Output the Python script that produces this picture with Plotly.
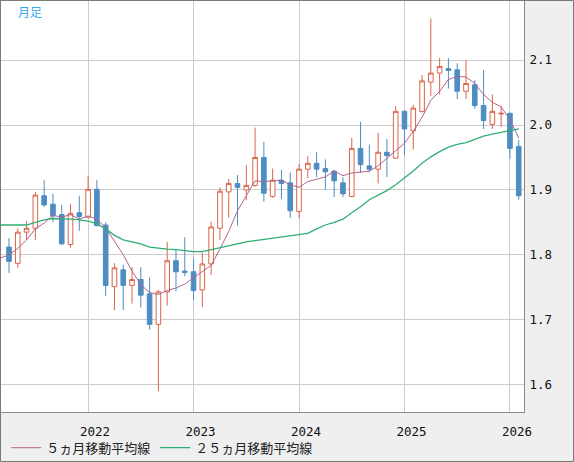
import plotly.graph_objects as go

# monthly candles, Apr 2021 - Feb 2026
months = [
    "2021-04", "2021-05", "2021-06", "2021-07", "2021-08", "2021-09", "2021-10", "2021-11", "2021-12",
    "2022-01", "2022-02", "2022-03", "2022-04", "2022-05", "2022-06", "2022-07", "2022-08", "2022-09", "2022-10", "2022-11", "2022-12",
    "2023-01", "2023-02", "2023-03", "2023-04", "2023-05", "2023-06", "2023-07", "2023-08", "2023-09", "2023-10", "2023-11", "2023-12",
    "2024-01", "2024-02", "2024-03", "2024-04", "2024-05", "2024-06", "2024-07", "2024-08", "2024-09", "2024-10", "2024-11", "2024-12",
    "2025-01", "2025-02", "2025-03", "2025-04", "2025-05", "2025-06", "2025-07", "2025-08", "2025-09", "2025-10", "2025-11", "2025-12",
    "2026-01", "2026-02",
]
opens = [
    1.812, 1.787, 1.835, 1.841, 1.891, 1.878, 1.862, 1.816, 1.865,
    1.858, 1.901, 1.846, 1.751, 1.777, 1.753, 1.762, 1.740, 1.693, 1.743, 1.791, 1.775,
    1.774, 1.746, 1.786, 1.841, 1.897, 1.910, 1.900, 1.907, 1.950, 1.890, 1.915, 1.911,
    1.867, 1.932, 1.941, 1.933, 1.929, 1.911, 1.890, 1.964, 1.937, 1.932, 1.958, 1.949,
    2.021, 1.991, 2.021, 2.066, 2.080, 2.087, 2.085, 2.052, 2.062, 2.030, 2.001, 2.017,
    2.018, 1.967,
]
highs = [
    1.826, 1.841, 1.852, 1.897, 1.915, 1.894, 1.877, 1.878, 1.891,
    1.922, 1.915, 1.850, 1.787, 1.785, 1.781, 1.781, 1.765, 1.746, 1.820, 1.808, 1.827,
    1.795, 1.803, 1.851, 1.904, 1.917, 1.923, 1.938, 1.996, 1.974, 1.933, 1.931, 1.927,
    1.940, 1.952, 1.958, 1.947, 1.931, 1.920, 1.980, 2.005, 1.970, 1.988, 1.978, 2.029,
    2.023, 2.031, 2.077, 2.164, 2.103, 2.103, 2.095, 2.100, 2.069, 2.085, 2.047, 2.029,
    2.019, 1.977,
]
lows = [
    1.772, 1.780, 1.823, 1.823, 1.874, 1.850, 1.815, 1.811, 1.837,
    1.856, 1.844, 1.737, 1.715, 1.715, 1.725, 1.719, 1.685, 1.590, 1.722, 1.744, 1.767,
    1.730, 1.720, 1.769, 1.823, 1.857, 1.845, 1.884, 1.905, 1.882, 1.888, 1.886, 1.857,
    1.857, 1.918, 1.920, 1.900, 1.889, 1.889, 1.889, 1.926, 1.927, 1.910, 1.920, 1.948,
    1.954, 1.962, 2.019, 2.045, 2.047, 2.056, 2.040, 2.040, 2.025, 1.994, 1.994, 1.997,
    1.948, 1.885,
]
closes = [
    1.790, 1.835, 1.841, 1.892, 1.877, 1.860, 1.817, 1.864, 1.859,
    1.901, 1.845, 1.753, 1.780, 1.753, 1.762, 1.738, 1.693, 1.743, 1.791, 1.774, 1.773,
    1.745, 1.786, 1.843, 1.898, 1.910, 1.904, 1.907, 1.950, 1.895, 1.915, 1.910, 1.868,
    1.932, 1.941, 1.932, 1.928, 1.914, 1.894, 1.964, 1.939, 1.932, 1.958, 1.953, 2.021,
    1.994, 2.026, 2.068, 2.080, 2.090, 2.084, 2.052, 2.064, 2.030, 2.007, 2.021, 2.018,
    1.964, 1.891,
]

# moving averages start one month earlier (line enters from the left edge)
ma_months = ["2021-03"] + months
ma5 = [
    1.795, 1.800, 1.810, 1.823, 1.840, 1.849, 1.861, 1.858, 1.862, 1.855,
    1.860, 1.855, 1.842, 1.822, 1.800, 1.775, 1.754, 1.742, 1.739, 1.745, 1.749, 1.755,
    1.765, 1.774, 1.784, 1.809, 1.836, 1.868, 1.892, 1.914, 1.913, 1.914, 1.915, 1.908,
    1.904, 1.913, 1.917, 1.920, 1.929, 1.922, 1.926, 1.928, 1.929, 1.937, 1.949, 1.961,
    1.972, 1.990, 2.012, 2.038, 2.052, 2.070, 2.075, 2.074, 2.064, 2.047, 2.035, 2.028,
    2.008, 1.980,
]
ma25 = [
    1.846, 1.846, 1.846, 1.846, 1.850, 1.854, 1.856, 1.856, 1.855, 1.854,
    1.852, 1.848, 1.840, 1.830, 1.823, 1.820, 1.817, 1.812, 1.810, 1.809, 1.808, 1.806,
    1.805, 1.805, 1.808, 1.812, 1.815, 1.818, 1.820, 1.822, 1.824, 1.826, 1.828, 1.830,
    1.831, 1.833, 1.840, 1.846, 1.850, 1.855, 1.865, 1.874, 1.885, 1.892, 1.899, 1.908,
    1.918, 1.929, 1.941, 1.951, 1.959, 1.966, 1.970, 1.973, 1.978, 1.983, 1.986, 1.989,
    1.992, 1.994,
]

y_ticks = [1.6, 1.7, 1.8, 1.9, 2.0, 2.1]
year_ticks = [m for m in months if m.endswith("-01")]
year_labels = [m[:4] for m in year_ticks]

UP = "#d9654a"
DOWN = "#4e8dc2"

fig = go.Figure()
fig.add_trace(go.Candlestick(
    x=months, open=opens, high=highs, low=lows, close=closes,
    increasing=dict(line=dict(color=UP, width=1), fillcolor="white"),
    decreasing=dict(line=dict(color=DOWN, width=1), fillcolor=DOWN),
    showlegend=False, hoverinfo="skip",
))
fig.add_trace(go.Scatter(x=ma_months, y=ma5, mode="lines", name="５ヵ月移動平均線",
                         line=dict(color="#b5628c", width=1)))
fig.add_trace(go.Scatter(x=ma_months, y=ma25, mode="lines", name="２５ヵ月移動平均線",
                         line=dict(color="#2eae72", width=1.3)))

W, H = 523, 411  # plot area in px

fig.update_layout(
    width=574, height=462,
    margin=dict(l=1, r=50, t=1, b=50, pad=0, autoexpand=False),
    paper_bgcolor="#efefef",
    plot_bgcolor="white",
    font=dict(family="DejaVu Sans Mono", size=12.5, color="#111"),
    showlegend=True,
    boxgap=0.25,
    legend=dict(orientation="h", x=0.01, y=-0.087, xanchor="left", yanchor="middle",
                font=dict(family="Noto Sans CJK JP", size=13, color="#222"),
                bgcolor="rgba(0,0,0,0)", itemwidth=30),
    annotations=[dict(text="月足", xref="paper", yref="paper", x=15 / W, y=1 - 10.5 / H,
                      xanchor="left", yanchor="middle", showarrow=False,
                      font=dict(family="Noto Sans CJK JP", size=12, color="#33aaee"))],
    shapes=[dict(type="rect", xref="paper", yref="paper",
                 x0=-0.5 / W, x1=1 + 49.5 / W, y0=-49.5 / H, y1=1 + 0.5 / H,
                 line=dict(color="#7a7a7a", width=1), layer="above")],
)
fig.update_xaxes(
    type="category", categoryorder="array", categoryarray=ma_months,
    range=[0.09, 59.6], rangeslider=dict(visible=False),
    tickmode="array", tickvals=year_ticks, ticktext=year_labels,
    showgrid=True, gridcolor="#cccccc", gridwidth=1,
    showline=True, linecolor="#8a8a8a", mirror=True,
    ticks="", ticklabelshift=7, ticklabelstandoff=8, automargin=False,
)
fig.update_yaxes(
    side="right", range=[1.558, 2.191],
    tickmode="array", tickvals=y_ticks, tickformat=".1f",
    showgrid=True, gridcolor="#cccccc", gridwidth=1,
    showline=True, linecolor="#8a8a8a", mirror=True,
    ticks="", zeroline=False, ticklabelstandoff=2, automargin=False,
)

# page body has a default 8px margin; drop it so the chart fills the window
fig.write_html("out.html", config={"displayModeBar": False},
               post_script="document.body.style.margin='0';")
